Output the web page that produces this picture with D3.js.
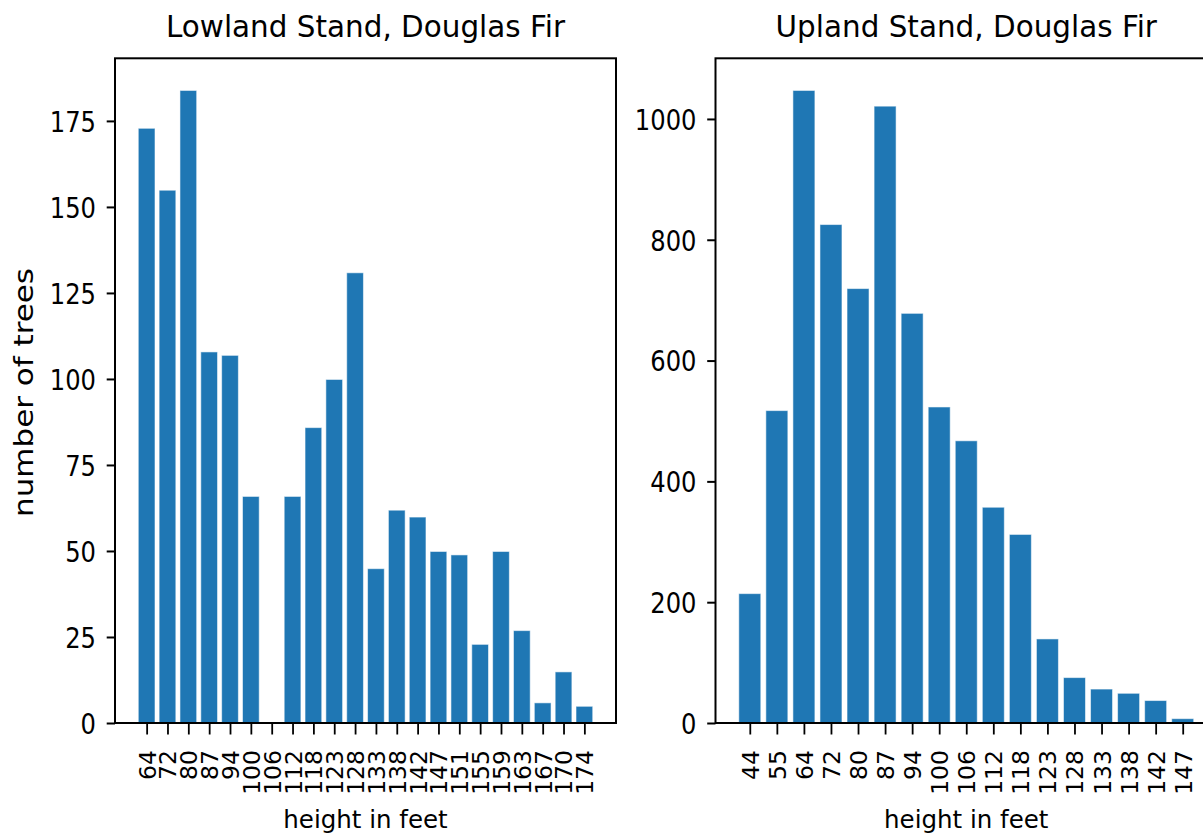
<!DOCTYPE html>
<html>
<head>
<meta charset="utf-8">
<script src="https://cdn.jsdelivr.net/npm/d3@7"></script>
<style>
  html, body { margin: 0; padding: 0; background: #ffffff; }
  svg { display: block; }
  text { font-family: "DejaVu Sans", sans-serif; fill: #000; }
</style>
</head>
<body>
<svg id="chart" width="1203" height="840"></svg>
<script>
// Height classes (feet) and tree counts per stand
const lowlandHeights = ["64","72","80","87","94","100","106","112","118","123","128","133","138","142","147","151","155","159","163","167","170","174"];
const lowlandCounts  = [173,155,184,108,107,66,0,66,86,100,131,45,62,60,50,49,23,50,27,6,15,5];

const uplandHeights = ["44","55","64","72","80","87","94","100","106","112","118","123","128","133","138","142","147"];
const uplandCounts  = [215,518,1048,826,720,1022,679,524,468,358,313,140,76,57,50,38,8];

const lowlandYTicks = [0,25,50,75,100,125,150,175];
const uplandYTicks  = [0,200,400,600,800,1000];

const titles = ["Lowland Stand, Douglas Fir", "Upland Stand, Douglas Fir"];
const xTitle = "height in feet";
const yTitle = "number of trees";

const svg = d3.select("#chart");
svg.append("rect").attr("width", 1203).attr("height", 840).attr("fill", "#fff");

const TOP = 58.3, BOTTOM = 723;
const BAR_W = 0.85;

function panel(opts) {
  const { left, right, cats, vals, yTicks, title } = opts;
  const n = cats.length;
  // 5% margins around the bar extent
  const lo = -BAR_W / 2, hi = n - 1 + BAR_W / 2, m = (hi - lo) * 0.05;
  const x = d3.scaleLinear().domain([lo - m, hi + m]).range([left, right]);
  const y = d3.scaleLinear().domain([0, d3.max(vals) * 1.05]).range([BOTTOM, TOP]);

  const g = svg.append("g");

  // bars
  g.selectAll("rect.bar").data(vals).join("rect")
    .attr("class", "bar")
    .attr("x", (d, i) => x(i - BAR_W / 2) + 0.5)
    .attr("width", x(BAR_W) - x(0) - 1)
    .attr("y", d => y(d) + 0.5)
    .attr("height", d => Math.max(0, y(0) - y(d) - 0.5))
    .attr("fill", "#1f77b4")
    .attr("stroke", "#ffffff")
    .attr("stroke-opacity", 0.55)
    .attr("stroke-width", 1);

  // frame
  g.append("rect")
    .attr("x", left).attr("y", TOP)
    .attr("width", right - left).attr("height", BOTTOM - TOP)
    .attr("fill", "none").attr("stroke", "#000").attr("stroke-width", 2);

  // y axis
  const yAxis = d3.axisLeft(y).tickValues(yTicks).tickSize(8.3).tickSizeOuter(0).tickFormat(d3.format("d"));
  const ya = g.append("g").attr("transform", `translate(${left},0)`).call(yAxis);
  ya.select(".domain").remove();
  ya.selectAll(".tick line").attr("stroke", "#000").attr("stroke-width", 2);
  ya.selectAll(".tick text")
    .attr("x", null).attr("dy", "0.36em")
    .attr("transform", "translate(-19,0) scale(0.85,1)")
    .style("font-family", "DejaVu Sans")
    .style("font-size", "28.5px")
    .style("text-anchor", "end")
    .attr("fill", "#000");

  // x axis
  const xAxis = d3.axisBottom(x).tickValues(d3.range(n)).tickSize(11.5).tickSizeOuter(0)
    .tickFormat(i => cats[i]);
  const xa = g.append("g").attr("transform", `translate(0,${BOTTOM})`).call(xAxis);
  xa.select(".domain").remove();
  xa.selectAll(".tick line").attr("stroke", "#000").attr("stroke-width", 1.8);
  xa.selectAll(".tick text")
    .attr("y", null).attr("dy", "0.36em")
    .attr("transform", "translate(0,27) rotate(-90)")
    .style("text-anchor", "end")
    .style("font-family", "DejaVu Sans")
    .style("font-size", "23.5px")
    .attr("fill", "#000");

  const cx = (left + right) / 2;
  // title
  g.append("text")
    .attr("transform", `translate(${cx},37) scale(0.95,1)`)
    .attr("text-anchor", "middle")
    .style("font-size", "31px")
    .text(title);
  // x title
  g.append("text")
    .attr("transform", `translate(${cx},828)`)
    .attr("text-anchor", "middle")
    .style("font-size", "24.5px")
    .text(xTitle);
}

panel({ left: 115, right: 616, cats: lowlandHeights, vals: lowlandCounts, yTicks: lowlandYTicks, title: titles[0] });
panel({ left: 715.5, right: 1217, cats: uplandHeights, vals: uplandCounts, yTicks: uplandYTicks, title: titles[1] });

// y title on the left panel
svg.append("text")
  .attr("transform", "translate(33.3,392.5) rotate(-90) scale(1.17,1)")
  .attr("text-anchor", "middle")
  .style("font-size", "26.5px")
  .text(yTitle);
</script>
</body>
</html>
